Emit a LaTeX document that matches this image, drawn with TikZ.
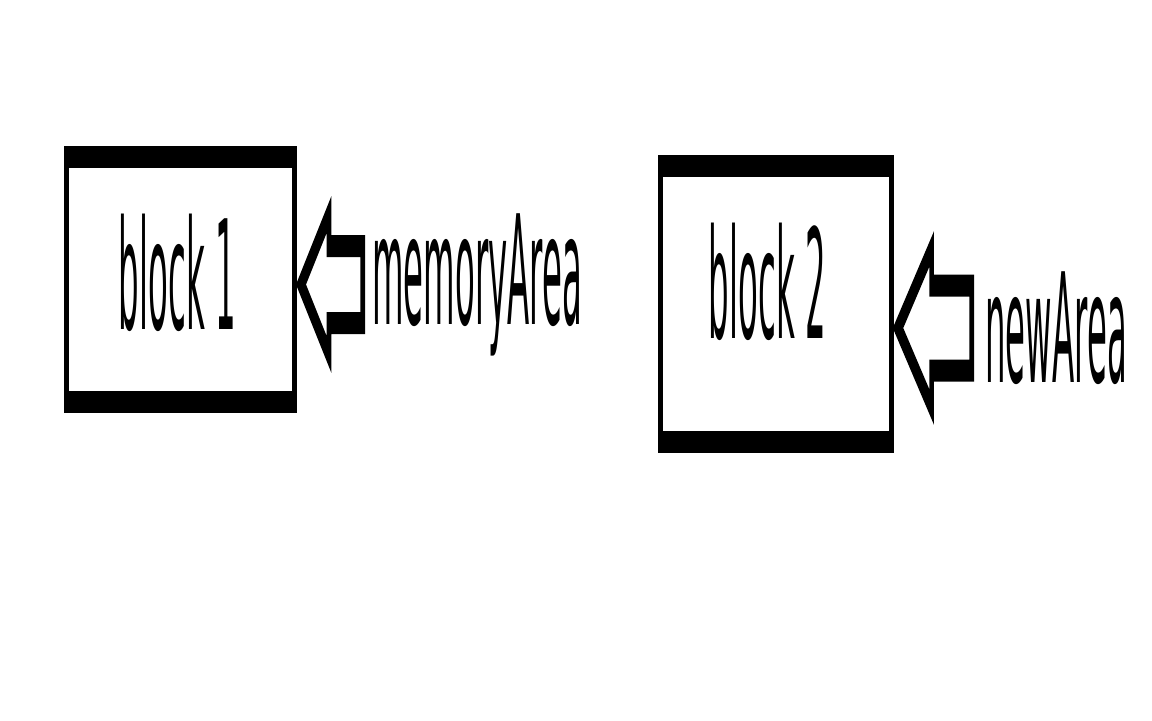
\documentclass[tikz,border=0pt]{standalone}
\usepackage{fontspec}
\setmainfont{DejaVu Sans}
\usetikzlibrary{calc,positioning}
\tikzset{blk/.style={draw, line width=2.2mm, inner sep=0pt},
  lbl/.style={font=\fontsize{43.25}{52}\selectfont, inner sep=0pt, outer sep=0pt},
  barrow/.style={draw, line width=2.2mm}}

\begin{document}
\begin{tikzpicture}[x=0.1mm, y=0.1mm]
  \path[use as bounding box, fill=white] (0,0) rectangle (1152,720);
  \begin{scope}[transform canvas={xscale=0.213}, x=0.4695mm]
  % the two memory blocks
  \node[blk, minimum width=107.2mm, minimum height=24.5mm] (blk1) at (180.5,440.5) {};
  \node[blk, minimum width=108.6mm, minimum height=27.6mm] (blk2) at (776,416) {};
  \node[lbl, below=6.8mm of blk1.north, xshift=-1.5mm] (txt1) {block 1};
  \node[lbl, below=6.8mm of blk2.north, xshift=-4.1mm] (txt2) {block 2};
  % pointers into the blocks
  \node[lbl, right=35.3mm of blk1, yshift=-0.5mm] (memLbl) {memoryArea};
  \node[lbl, right=42.9mm of blk2, yshift=-2.4mm] (newLbl) {newArea};
  \draw[barrow] ($(blk1.east |- memLbl.west)+(4,0)$) -- ++(28,70) -- ++(0,-31.5) -- ++(33.65,0)
    -- ++(0,-77) -- ++(-33.65,0) -- ++(0,-31.5) -- cycle;
  \draw[barrow] ($(blk2.east |- newLbl.west)+(4,0)$) -- ++(33.6,79) -- ++(0,-36.5) -- ++(40.05,0)
    -- ++(0,-85) -- ++(-40.05,0) -- ++(0,-36.5) -- cycle;
  \end{scope}
\end{tikzpicture}
\end{document}
